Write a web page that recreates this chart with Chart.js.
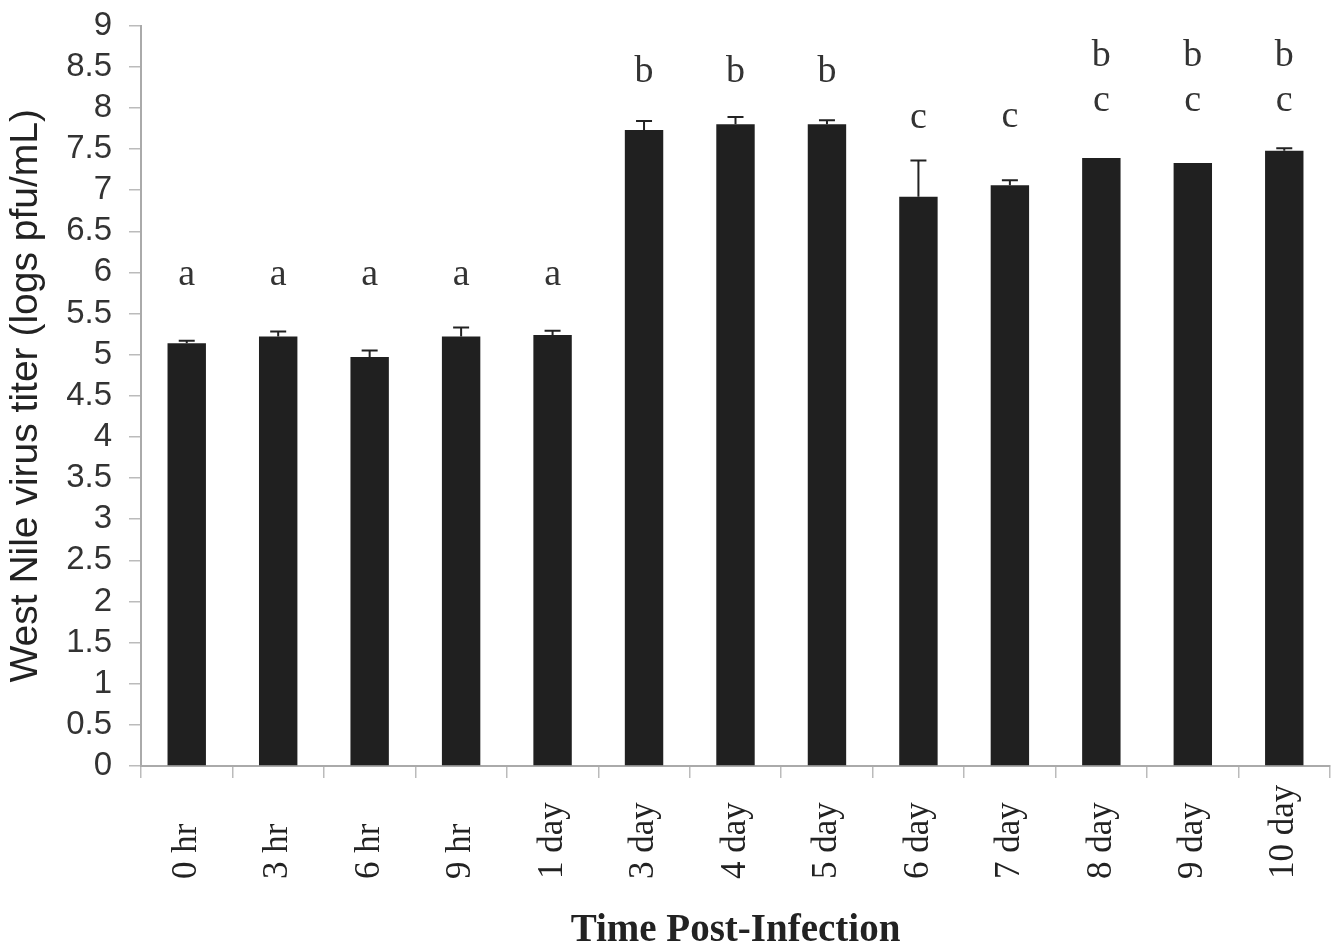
<!DOCTYPE html>
<html>
<head>
<meta charset="utf-8">
<script src="https://cdn.jsdelivr.net/npm/chart.js@4/dist/chart.umd.min.js"></script>
<style>
  html, body { margin: 0; padding: 0; background: #fff; }
  #wrap { width: 1338px; height: 947px; position: relative; }
</style>
</head>
<body>
<div id="wrap"><canvas id="titerChart"></canvas></div>
<script>
/* DATA */
const tiempos = ["0 hr", "3 hr", "6 hr", "9 hr", "1 day", "3 day", "4 day", "5 day", "6 day", "7 day", "8 day", "9 day", "10 day"]
const titerMedio = [5.14, 5.22, 4.97, 5.22, 5.24, 7.73, 7.80, 7.80, 6.92, 7.06, 7.39, 7.33, 7.48]
const titerErrorSup = [5.17, 5.28, 5.05, 5.33, 5.29, 7.84, 7.89, 7.85, 7.36, 7.12, 7.39, 7.33, 7.51]
const letrasAbajo = ["a", "a", "a", "a", "a", "b", "b", "b", "c", "c", "c", "c", "c"]
const letrasArriba = ["", "", "", "", "", "", "", "", "", "", "b", "b", "b"]
const nivelLetras = [5.85, 5.85, 5.85, 5.85, 5.85, 8.31, 8.31, 8.31, 7.76, 7.77, 7.96, 7.96, 7.96]
const yTicksMax = 9
const yTicksStep = 0.5

const fuenteSerif = "'Liberation Serif', 'Times New Roman', serif"
const fuenteSans = "'Liberation Sans', Arial, sans-serif"

/* error bars, letras y etiquetas del eje x, usando las escalas del chart */
const barrasError = {
    id: "barrasError",
    afterDatasetsDraw(chart) {
        const ctx = chart.ctx
        const x = chart.scales.x
        const y = chart.scales.y
        ctx.save()
        ctx.strokeStyle = "#222"
        ctx.lineWidth = 2
        for (let i = 0; i < tiempos.length; i++) {
            if (titerErrorSup[i] <= titerMedio[i]) continue
            const px = x.getPixelForValue(i)
            const y0 = y.getPixelForValue(titerMedio[i])
            const y1 = y.getPixelForValue(titerErrorSup[i])
            ctx.beginPath()
            ctx.moveTo(px, y0)
            ctx.lineTo(px, y1)
            ctx.moveTo(px - 8, y1)
            ctx.lineTo(px + 8, y1)
            ctx.stroke()
        }
        ctx.fillStyle = "#333"
        ctx.font = "38px " + fuenteSerif
        ctx.textAlign = "center"
        ctx.textBaseline = "alphabetic"
        for (let i = 0; i < tiempos.length; i++) {
            const px = x.getPixelForValue(i)
            ctx.fillText(letrasAbajo[i], px, y.getPixelForValue(nivelLetras[i]))
            if (letrasArriba[i] != "") {
                ctx.fillText(letrasArriba[i], px, y.getPixelForValue(nivelLetras[i] + 0.55))
            }
        }

        // etiquetas rotadas, alineadas abajo
        ctx.fillStyle = "#222"
        ctx.font = "35px " + fuenteSerif
        ctx.textAlign = "left"
        ctx.textBaseline = "middle"
        for (let i = 0; i < tiempos.length; i++) {
            const px = x.getPixelForValue(i)
            ctx.save()
            ctx.translate(px, x.bottom - 68)
            ctx.rotate(-Math.PI / 2)
            ctx.fillText(x.getLabelForValue(i), 0, 0)
            ctx.restore()
        }
        ctx.restore()
    }
}

let titerCanvas = document.getElementById("titerChart").getContext("2d")

let dataTiterCanvas = {
    type: "bar",
    data: {
        labels: tiempos,
        datasets: [{
            label: "Titer",
            data: titerMedio,
            backgroundColor: "#202020",
            borderColor: "#202020",
            borderWidth: 0,
            barPercentage: 0.42,
            categoryPercentage: 1
        }]
    },
    options: {
        responsive: true,
        maintainAspectRatio: false,
        animation: false,
        layout: { padding: { top: 0, right: 8, left: 0, bottom: 0 } },
        plugins: {
            legend: { display: false },
            tooltip: { enabled: false }
        },
        scales: {
            x: {
                grid: { display: true, drawOnChartArea: false, offset: true, tickLength: 12, color: "#bbb", lineWidth: 1.5 },
                border: { color: "#aaa", width: 2 },
                ticks: { display: false },
                title: {
                    display: true, text: "Time Post-Infection", color: "#222",
                    font: { family: fuenteSerif, size: 39, weight: "bold", lineHeight: 0.8 },
                    padding: { top: 0, bottom: 0 }
                },
                afterFit: (s) => { s.height = 181 }
            },
            y: {
                min: 0,
                max: yTicksMax,
                grid: { display: true, drawOnChartArea: false, tickLength: 12, color: "#bbb", lineWidth: 1.5 },
                border: { color: "#aaa", width: 2 },
                ticks: {
                    stepSize: yTicksStep, autoSkip: false, padding: 17, color: "#333",
                    font: { family: fuenteSans, size: 33, lineHeight: 0.52 },
                    callback: (v) => String(Number(v))
                },
                title: {
                    display: true, text: "West Nile virus titer (logs pfu/mL)", color: "#222",
                    font: { family: fuenteSans, size: 39 },
                    padding: { top: 3, bottom: 0 }
                },
                afterFit: (s) => { s.width = 141 }
            }
        }
    },
    plugins: [barrasError]
}

var chart = new Chart(titerCanvas, dataTiterCanvas)
</script>
</body>
</html>
